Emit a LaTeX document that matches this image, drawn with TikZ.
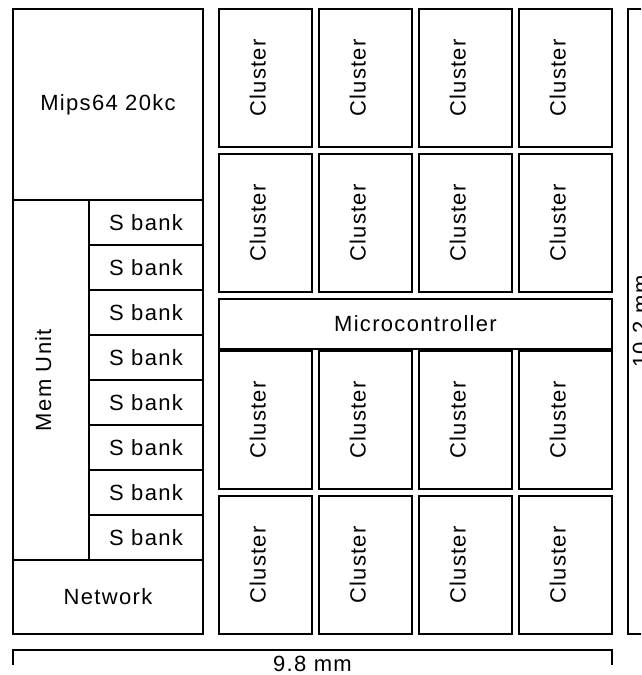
\documentclass[tikz,border=0pt]{standalone}
\usepackage{fontspec}
\setmainfont{Liberation Sans}[LetterSpace=6]
\usepackage{graphicx}
\usetikzlibrary{positioning}
\tikzset{
  block/.style={draw=black, line width=1.8pt, outer sep=0pt, inner sep=0pt,
    font=\fontsize{22pt}{26pt}\selectfont, align=center},
  cluster/.style={block, minimum width=93pt, minimum height=138pt},
  bank/.style={block, minimum width=114pt, minimum height=45pt},
  dim/.style={draw=black, line width=1.4pt},
  dimlabel/.style={font=\fontsize{22pt}{26pt}\selectfont},
}
% texto rodado, com a linha de base no centro da caixa
\newcommand{\vlabel}[1]{\rotatebox{90}{\raisebox{0pt}[\height][\height]{#1}}}

\begin{document}
\begin{tikzpicture}[x=1pt, y=-1pt, node distance=7pt and 7pt]
    \useasboundingbox (0,0) rectangle (641,675);
    \clip (0,0) rectangle (641,675);
    % coluna da esquerda
    \node[block, minimum width=190pt, minimum height=191pt] (mips) at (108,104.5) {Mips64 20kc};
    \node[block, minimum width=76pt, minimum height=360pt, below right=0pt and 0pt of mips.south west] (mem) {\vlabel{Mem Unit}};
    \node[bank, below right=0pt and 0pt of mem.north east] (b1) {S bank};
    \node[bank, below=0pt of b1] (b2) {S bank};
    \node[bank, below=0pt of b2] (b3) {S bank};
    \node[bank, below=0pt of b3] (b4) {S bank};
    \node[bank, below=0pt of b4] (b5) {S bank};
    \node[bank, below=0pt of b5] (b6) {S bank};
    \node[bank, below=0pt of b6] (b7) {S bank};
    \node[bank, below=0pt of b7] (b8) {S bank};
    \node[block, minimum width=190pt, minimum height=74pt, below right=0pt and 0pt of mem.south west] (net) {Network};
    % clusters
    \node[cluster] (c11) at (265.5,78) {\vlabel{Cluster}};
    \node[cluster, right=of c11] (c12) {\vlabel{Cluster}};
    \node[cluster, right=of c12] (c13) {\vlabel{Cluster}};
    \node[cluster, right=of c13] (c14) {\vlabel{Cluster}};
    \node[cluster, below=of c11] (c21) {\vlabel{Cluster}};
    \node[cluster, right=of c21] (c22) {\vlabel{Cluster}};
    \node[cluster, right=of c22] (c23) {\vlabel{Cluster}};
    \node[cluster, right=of c23] (c24) {\vlabel{Cluster}};
    \node[block, minimum width=393pt, minimum height=50pt, below right=7pt and 0pt of c21.south west] (micro) {Microcontroller};
    \node[cluster, below right=2pt and 0pt of micro.south west] (c31) {\vlabel{Cluster}};
    \node[cluster, right=of c31] (c32) {\vlabel{Cluster}};
    \node[cluster, right=of c32] (c33) {\vlabel{Cluster}};
    \node[cluster, right=of c33] (c34) {\vlabel{Cluster}};
    \node[cluster, below=of c31] (c41) {\vlabel{Cluster}};
    \node[cluster, right=of c41] (c42) {\vlabel{Cluster}};
    \node[cluster, right=of c42] (c43) {\vlabel{Cluster}};
    \node[cluster, right=of c43] (c44) {\vlabel{Cluster}};
    % cotas
    \coordinate (wl) at ([yshift=-31pt]net.south west);
    \coordinate (wr) at (wl -| c44.east);
    \coordinate (ht) at ([xshift=33pt]c14.north east);
    \coordinate (hb) at ([xshift=33pt]c44.south east);
    \draw[dim] (wl) -- ++(0,-15) -| (wr) node[dimlabel, pos=0.25, anchor=north, inner sep=5pt] (wlab) {9.8 mm};
    \draw[dim] (ht) -- ++(-17,0) |- (hb) node[dimlabel, pos=0.25, rotate=90, anchor=north, inner sep=4pt] (hlab) {10.2 mm};
\end{tikzpicture}
\end{document}
